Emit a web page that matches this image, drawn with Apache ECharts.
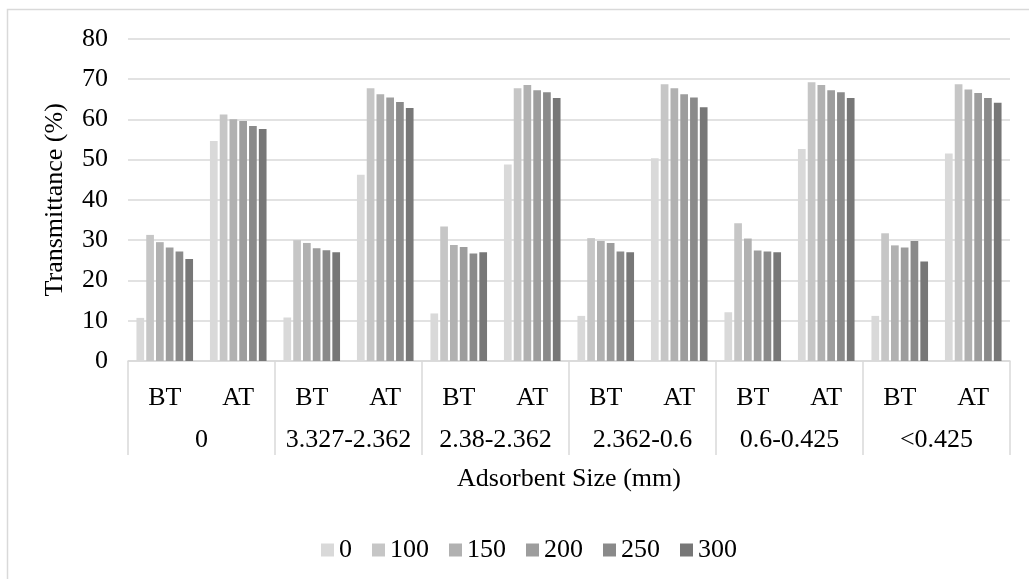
<!DOCTYPE html>
<html>
<head>
<meta charset="utf-8">
<script src="https://cdn.jsdelivr.net/npm/echarts@6/dist/echarts.min.js"></script>
<style>
  html, body { margin: 0; padding: 0; background: #fff; }
  #chart { width: 1029px; height: 579px; }
</style>
</head>
<body>
<div id="chart"></div>
<script>
// Adsorbent size groups and the before/after treatment sub-categories
const sizeGroups = ['0', '3.327-2.362', '2.38-2.362', '2.362-0.6', '0.6-0.425', '<0.425'];
const phases = ['BT', 'AT'];
const seriesNames = ['0', '100', '150', '200', '250', '300'];

// Transmittance (%) per series, ordered BT, AT for each size group
const t0   = [10.7, 54.6, 10.8, 46.2, 11.8, 48.8, 11.2, 50.3, 12.1, 52.6, 11.2, 51.5];
const t100 = [31.3, 61.2, 30.0, 67.7, 33.4, 67.7, 30.5, 68.7, 34.2, 69.2, 31.7, 68.7];
const t150 = [29.5, 60.0, 29.3, 66.2, 28.8, 68.5, 29.8, 67.7, 30.4, 68.5, 28.7, 67.4];
const t200 = [28.2, 59.6, 28.0, 65.4, 28.3, 67.2, 29.3, 66.2, 27.4, 67.2, 28.2, 66.5];
const t250 = [27.2, 58.3, 27.5, 64.3, 26.7, 66.7, 27.2, 65.4, 27.2, 66.7, 29.8, 65.3];
const t300 = [25.3, 57.6, 27.0, 62.8, 27.0, 65.3, 27.0, 63.0, 27.0, 65.3, 24.7, 64.1];

const seriesValues = [t0, t100, t150, t200, t250, t300];
const colors = ['#d9d9d9', '#c6c6c6', '#b1b1b1', '#9d9d9d', '#8a8a8a', '#777777'];

const subCategories = [];
sizeGroups.forEach(() => phases.forEach(p => subCategories.push(p)));

const font = "'Liberation Serif', 'Times New Roman', serif";
const fs = 26;
const lineColor = '#d9d9d9';

const chart = echarts.init(document.getElementById('chart'), null, { renderer: 'canvas' });

chart.setOption({
  backgroundColor: '#ffffff',
  animation: false,
  textStyle: { fontFamily: font, color: '#000' },
  graphic: [{
    type: 'rect',
    shape: { x: 7.5, y: 9.5, width: 1100, height: 700 },
    style: { fill: 'none', stroke: lineColor, lineWidth: 1.5 },
    silent: true
  }],
  grid: { left: 128, right: 19, top: 38.7, bottom: 218, containLabel: false },
  legend: {
    data: seriesNames,
    left: 316,
    top: 532,
    itemWidth: 13,
    itemHeight: 13,
    itemGap: 20,
    icon: 'rect',
    textStyle: { fontFamily: font, fontSize: fs, color: '#000', padding: [0, 0, 0, 0] }
  },
  xAxis: [{
    type: 'category',
    data: subCategories,
    position: 'bottom',
    axisLine: { show: true, lineStyle: { color: lineColor, width: 1.5 } },
    axisTick: { show: false },
    axisLabel: { interval: 0, margin: 24, fontSize: fs, fontFamily: font, color: '#000' },
    splitLine: { show: false }
  }, {
    type: 'category',
    data: sizeGroups,
    position: 'bottom',
    axisLine: { show: false },
    axisTick: { show: true, interval: 0, length: 94, lineStyle: { color: lineColor, width: 1.5 } },
    axisLabel: { interval: 0, margin: 66, fontSize: fs, fontFamily: font, color: '#000' },
    name: 'Adsorbent Size (mm)',
    nameLocation: 'middle',
    nameGap: 105,
    nameTextStyle: { fontSize: fs, fontFamily: font, color: '#000' },
    splitLine: { show: false }
  }],
  yAxis: {
    type: 'value',
    min: 0,
    max: 80,
    interval: 10,
    name: 'Transmittance (%)',
    nameLocation: 'middle',
    nameGap: 60,
    nameRotate: 90,
    nameTextStyle: { fontSize: fs, fontFamily: font, color: '#000' },
    axisLine: { show: false },
    axisTick: { show: false },
    axisLabel: { margin: 20, fontSize: fs, fontFamily: font, color: '#000' },
    splitLine: { show: true, lineStyle: { color: lineColor, width: 1.5 } }
  },
  series: seriesNames.map((name, i) => ({
    name: name,
    type: 'bar',
    xAxisIndex: 0,
    data: seriesValues[i],
    barWidth: 7.7,
    barGap: '27%',
    itemStyle: { color: colors[i] }
  }))
});
</script>
</body>
</html>
